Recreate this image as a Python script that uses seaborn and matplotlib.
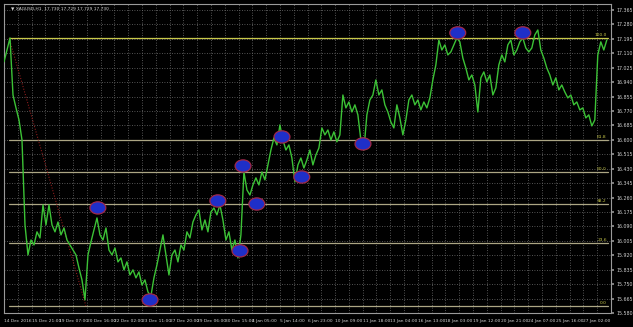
import numpy as np
import pandas as pd
import matplotlib
matplotlib.use("Agg")
import matplotlib.pyplot as plt
from matplotlib.patches import Ellipse
import seaborn as sns

# ---- data ----
price = [17.059, 17.129, 17.200, 16.864, 16.788, 16.717, 16.599, 16.099, 15.922, 16.010,
         15.981, 16.058, 16.022, 16.217, 16.099, 16.217, 16.099, 16.058, 16.116, 16.040,
         16.081, 16.010, 15.981, 15.951, 15.922, 15.845, 15.775, 15.657, 15.922, 15.999,
         16.069, 16.140, 16.040, 16.010, 16.081, 15.951, 15.922, 15.963, 15.881, 15.904,
         15.834, 15.881, 15.804, 15.834, 15.787, 15.822, 15.745, 15.775, 15.704, 15.681,
         15.787, 15.863, 15.951, 16.040, 15.922, 15.804, 15.922, 15.951, 15.881, 15.981,
         15.951, 16.058, 16.022, 16.116, 16.158, 16.187, 16.069, 16.128, 16.058, 16.175,
         16.199, 16.158, 16.217, 16.128, 16.010, 16.058, 15.951, 16.010, 15.904, 16.040,
         16.411, 16.305, 16.275, 16.334, 16.376, 16.334, 16.411, 16.364, 16.452, 16.540,
         16.611, 16.570, 16.688, 16.599, 16.540, 16.570, 16.493, 16.352, 16.452, 16.493,
         16.434, 16.482, 16.540, 16.452, 16.511, 16.552, 16.670, 16.629, 16.658, 16.599,
         16.647, 16.588, 16.629, 16.864, 16.788, 16.823, 16.764, 16.806, 16.747, 16.599,
         16.540, 16.747, 16.835, 16.864, 16.953, 16.864, 16.894, 16.806, 16.764, 16.705,
         16.670, 16.806, 16.729, 16.629, 16.717, 16.835, 16.864, 16.806, 16.835, 16.776,
         16.823, 16.788, 16.847, 16.953, 17.041, 17.188, 17.129, 17.159, 17.100, 17.118,
         17.159, 17.200, 17.177, 17.082, 17.023, 16.953, 16.982, 16.923, 16.764, 16.965,
         17.000, 16.941, 16.982, 16.864, 16.906, 17.041, 17.100, 17.059, 17.159, 17.188,
         17.100, 17.129, 17.177, 17.200, 17.141, 17.118, 17.141, 17.218, 17.247, 17.129,
         17.082, 17.023, 16.982, 16.923, 16.965, 16.894, 16.923, 16.882, 16.847, 16.864,
         16.806, 16.823, 16.776, 16.788, 16.729, 16.747, 16.682, 16.717, 17.100, 17.177,
         17.129, 17.188]

fib_high = 17.200
fib_low = 15.622
fib_pcts = [0.0, 23.6, 38.2, 50.0, 61.8, 100.0]
fib_labels = ["0.0", "23.6", "38.2", "50.0", "61.8", "100.0"]

# marked points (bar position, price)
mark_x = [31.3, 48.7, 71.3, 78.7, 79.7, 84.3, 92.7, 99.3, 119.7, 151.3, 173.0]
mark_y = [16.199, 15.657, 16.240, 15.946, 16.446, 16.222, 16.617, 16.381, 16.576, 17.230, 17.230]

x_labels = ["14 Dec 2016", "15 Dec 21:00", "19 Dec 07:00", "20 Dec 16:00", "22 Dec 02:00",
            "23 Dec 11:00", "27 Dec 20:00", "29 Dec 06:00", "30 Dec 15:00", "4 Jan 05:00",
            "5 Jan 14:00", "6 Jan 23:00", "10 Jan 09:00", "11 Jan 18:00", "13 Jan 04:00",
            "16 Jan 13:00", "18 Jan 03:00", "19 Jan 12:00", "20 Jan 21:00", "24 Jan 07:00",
            "25 Jan 16:00", "27 Jan 02:00"]
y_ticks = [15.580, 15.665, 15.750, 15.835, 15.920, 16.005, 16.090, 16.175, 16.260, 16.345,
           16.430, 16.515, 16.600, 16.685, 16.770, 16.855, 16.940, 17.025, 17.110, 17.195,
           17.280, 17.365]
header = "\u25BC XAGUSD,H1  17.730 17.729 17.729 17.730"

# ---- figure ----
sns.set_theme(style="dark")
plt.rcParams['font.family'] = ['Liberation Sans Narrow', 'DejaVu Sans']

fig = plt.figure(figsize=(6.33, 3.27), dpi=100, facecolor="black")
ax = fig.add_axes([4/633, 1 - 313/327, 607/633, 309/327])
ax.set_facecolor("black")

df = pd.DataFrame({"bar": np.arange(len(price)), "price": price})
sns.lineplot(data=df, x="bar", y="price", ax=ax, color="#3cc236", linewidth=1.0, zorder=3)

# grid
ax.set_xlim(0, 202.33)
ax.set_ylim(15.580, 17.400)
step = 9.2
xt = [i * step for i in range(len(x_labels))]
ax.set_xticks(xt)
ax.set_xticklabels(x_labels, fontsize=3.2, color="#d0d0d0", ha="left")
ax.set_xticks([i * step / 2 for i in range(2 * len(x_labels) + 1)], minor=True)
ax.yaxis.tick_right()
ax.set_yticks(y_ticks)
ax.set_yticklabels([f"{v:.3f}" for v in y_ticks], fontsize=3.4, color="#d0d0d0")
ax.tick_params(axis="x", which="major", length=2, color="#909090", pad=2)
ax.tick_params(axis="x", which="minor", length=0)
ax.tick_params(axis="y", length=2, color="#909090", pad=2)
ax.grid(True, which="both", axis="x", color="#6e6e6e", linestyle=(0, (1, 2)), linewidth=0.6)
ax.grid(True, which="major", axis="y", color="#6e6e6e", linestyle=(0, (1, 2)), linewidth=0.6)
ax.set_xlabel("")
ax.set_ylabel("")
for s in ax.spines.values():
    s.set_color("#9a9a9a")
    s.set_linewidth(0.8)

# fibonacci levels
x0, x1 = 1.7, 201.3
for pct, lab in zip(fib_pcts, fib_labels):
    lvl = fib_low + (fib_high - fib_low) * pct / 100.0
    col = "#c8c84a" if pct == 100.0 else "#aca684"
    ax.plot([x0, x1], [lvl, lvl], color=col, linewidth=0.9, zorder=2)
    ax.text(x1 - 0.3, lvl + 0.006, lab, fontsize=3.2, color="#c8c84a", ha="right", va="bottom", zorder=4)

# fibo base line
ax.plot([x0, 27.3], [fib_high, fib_low], color="#8b1c1c", linestyle=(0, (1, 1.5)), linewidth=0.8, zorder=2)

# marked ellipses
for mx, my in zip(mark_x, mark_y):
    ax.add_patch(Ellipse((mx, my), width=5.3, height=0.072, facecolor="#1f2fc8",
                         edgecolor="#a02848", linewidth=0.9, zorder=5))

ax.text(2.2, 17.375, header, fontsize=3.2, color="#d8d8d8", ha="left", va="center",
        family=['DejaVu Sans'], zorder=6)

fig.savefig("out.png", dpi=100, facecolor="black")
